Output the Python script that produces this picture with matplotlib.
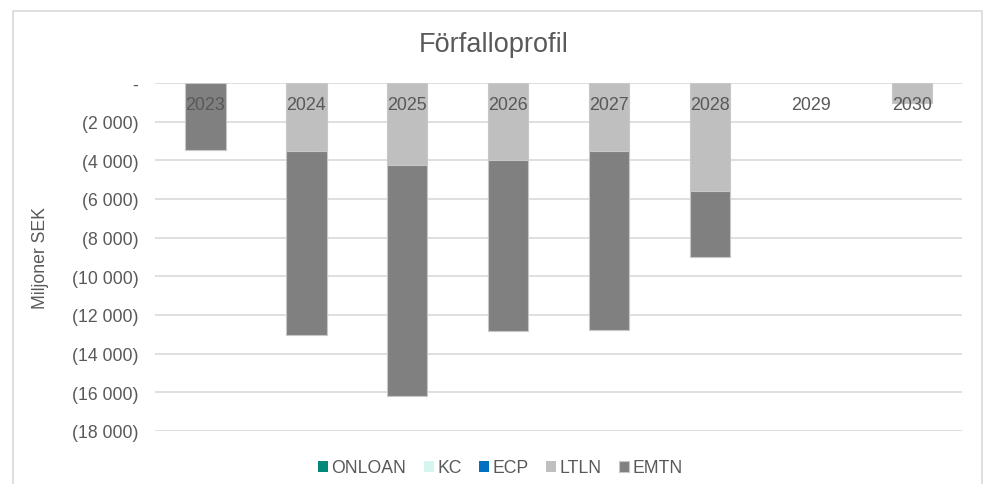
import matplotlib.pyplot as plt
from matplotlib.patches import Rectangle
from matplotlib.ticker import FuncFormatter
import numpy as np

years = ["2023", "2024", "2025", "2026", "2027", "2028", "2029", "2030"]
onloan = [0, 0, 0, 0, 0, 0, 0, 0]
kc = [0, 0, 0, 0, 0, 0, 0, 0]
ecp = [0, 0, 0, 0, 0, 0, 0, 0]
ltln = [0, -3500, -4240, -4000, -3500, -5580, 0, -1030]
emtn = [-3470, -9520, -11940, -8820, -9270, -3420, 0, 0]
y_ticks = [0, -2000, -4000, -6000, -8000, -10000, -12000, -14000, -16000, -18000]

plt.rcParams["font.family"] = ["Liberation Sans", "DejaVu Sans"]
text_color = "#595959"

fig = plt.figure(figsize=(9.87, 4.85), dpi=100)
ax = fig.add_axes([0.157, 0.1093, 0.818, 0.7175])

x = np.arange(len(years))
width = 0.4
ax.bar(x, onloan, width, color="#00897B", linewidth=0, label="ONLOAN")
ax.bar(x, kc, width, color="#D5F5F1", linewidth=0, label="KC")
ax.bar(x, ecp, width, color="#0070C0", linewidth=0, label="ECP")
# no outline on empty segments
ax.bar(x, ltln, width, color="#BFBFBF", edgecolor="#C8C8C8",
       linewidth=[0.8 if v else 0 for v in ltln], label="LTLN", zorder=2)
ax.bar(x, emtn, width, bottom=ltln, color="#808080", edgecolor="#C8C8C8",
       linewidth=[0.8 if v else 0 for v in emtn], label="EMTN", zorder=2)


def fmt(v, pos):
    if v == 0:
        return "-"
    return "(" + f"{abs(v):,.0f}".replace(",", " ") + ")"


ax.set_yticks(y_ticks)
ax.yaxis.set_major_formatter(FuncFormatter(fmt))
ax.set_ylim(-18000, 0)
ax.set_xlim(-0.5, len(years) - 0.5)
ax.set_xticks(x, years)
ax.tick_params(axis="x", bottom=False, labelbottom=False, top=False,
               labeltop=True, pad=-25, labelsize=12.9, labelcolor=text_color)
ax.tick_params(axis="y", length=0, pad=12, labelsize=12.7,
               labelcolor=text_color)
ax.yaxis.grid(True, color="#D9D9D9", linewidth=1.2)
ax.set_axisbelow(True)
# category labels sit on top of the bars
ax.xaxis.set_zorder(5)
for s in ax.spines.values():
    s.set_visible(False)
ax.set_ylabel("Miljoner SEK", fontsize=12.7, color=text_color, labelpad=16)

fig.text(0.5, 1 - 45 / 485, "Förfalloprofil", ha="center", va="center",
         fontsize=19.5, color=text_color)

handles, labels = ax.get_legend_handles_labels()
fig.legend(handles, labels, loc="center", bbox_to_anchor=(0.507, 1 - 469 / 485),
           ncol=5, frameon=False, fontsize=12.7, labelcolor=text_color,
           handlelength=0.55, handleheight=0.55, handletextpad=0.2,
           columnspacing=1.0)

fig.patches.append(Rectangle((13 / 987, -0.1), 969 / 987, 1.1 - 12 / 485,
                             transform=fig.transFigure, fill=False,
                             edgecolor="#D9D9D9", linewidth=1.2))

plt.savefig("out.png", dpi=100)
